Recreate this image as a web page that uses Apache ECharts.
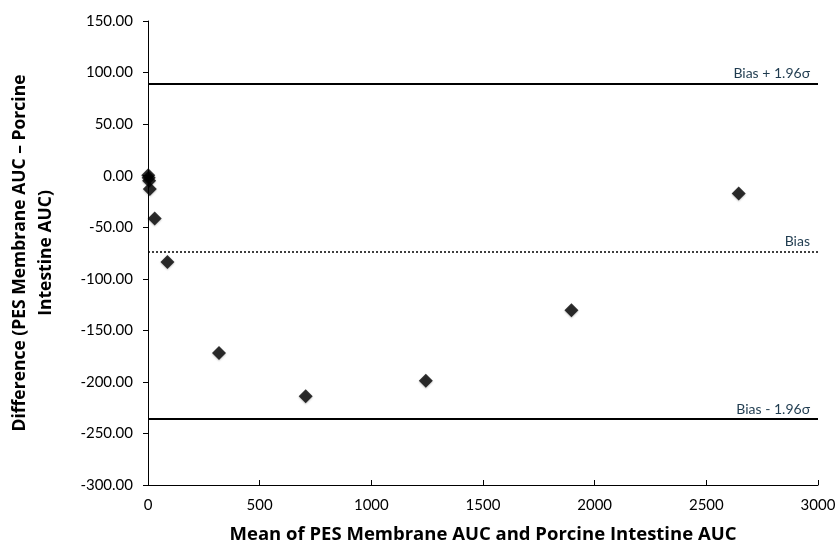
<!DOCTYPE html>
<html>
<head>
<meta charset="utf-8">
<script src="https://cdn.jsdelivr.net/npm/echarts@6/dist/echarts.min.js"></script>
<style>
  html, body { margin: 0; padding: 0; background: #fff; }
  #chart { width: 840px; height: 547px; }
</style>
</head>
<body>
<div id="chart"></div>
<script>
// Bland–Altman comparison: PES membrane vs porcine intestine AUC
const meanAUC = [1, 3, 5, 8, 30, 87, 318, 706, 1244, 1896, 2645];
const diffAUC = [0.5, -2, -5, -13, -41.6, -83.7, -172, -214, -199, -130.5, -17.4];

const bias = -73.4;
const upperLimit = 89.3;
const lowerLimit = -236.0;

const xTicks = { min: 0, max: 3000, step: 500 };
const yTicks = { min: -300, max: 150, step: 50 };

const lineLabels = ['Bias + 1.96σ', 'Bias', 'Bias - 1.96σ'];

const FONT = 'Lato, "Open Sans", sans-serif';
const TITLE_FONT = '"Open Sans", Lato, sans-serif';

const chart = echarts.init(document.getElementById('chart'), null, { renderer: 'canvas' });

const labelStyle = {
  show: true,
  formatter: '{b}',
  position: 'insideEndTop',
  color: '#1F3B4F',
  fontFamily: FONT,
  fontSize: 14,
  distance: [8, 3]
};

chart.setOption({
  animation: false,
  backgroundColor: '#ffffff',
  grid: { left: 148, right: 22, top: 21, bottom: 62, containLabel: false, outerBoundsMode: 'none' },
  xAxis: {
    type: 'value',
    min: xTicks.min, max: xTicks.max, interval: xTicks.step,
    name: 'Mean of PES Membrane AUC and Porcine Intestine AUC',
    nameLocation: 'middle',
    nameGap: 40,
    nameTextStyle: { fontFamily: TITLE_FONT, fontWeight: 'bold', fontSize: 18.5, color: '#000' },
    axisLine: { show: true, onZero: false, lineStyle: { color: '#000', width: 1 } },
    axisTick: { show: true, inside: true, length: 5, lineStyle: { color: '#000' } },
    axisLabel: { fontFamily: FONT, fontSize: 15, color: '#000', margin: 13, formatter: v => String(v) },
    splitLine: { show: false }
  },
  yAxis: {
    type: 'value',
    min: yTicks.min, max: yTicks.max, interval: yTicks.step,
    name: 'Difference (PES Membrane AUC – Porcine\nIntestine AUC)',
    nameLocation: 'middle',
    nameRotate: 90,
    nameGap: 89,
    nameTextStyle: { fontFamily: TITLE_FONT, fontWeight: 'bold', fontSize: 17.5, color: '#000', lineHeight: 26, align: 'center' },
    axisLine: { show: true, onZero: false, lineStyle: { color: '#000', width: 1 } },
    axisTick: { show: true, inside: false, length: 5, lineStyle: { color: '#000' } },
    axisLabel: {
      fontFamily: FONT, fontSize: 15, color: '#000', margin: 15,
      formatter: v => v.toFixed(2)
    },
    splitLine: { show: false }
  },
  series: [
    {
      type: 'scatter',
      data: meanAUC.map((m, i) => [m, diffAUC[i]]),
      symbol: 'diamond',
      symbolSize: 14,
      itemStyle: { color: '#000', shadowColor: 'rgba(0,0,0,0.3)', shadowBlur: 2, shadowOffsetY: 1 },
      z: 5,
      markLine: {
        silent: true,
        symbol: ['none', 'none'],
        animation: false,
        data: [
          { name: lineLabels[0], yAxis: upperLimit, lineStyle: { color: '#000', width: 2, type: 'solid' }, label: labelStyle },
          { name: lineLabels[1], yAxis: bias, lineStyle: { color: '#000', width: 1.5, type: [2, 2] }, label: labelStyle },
          { name: lineLabels[2], yAxis: lowerLimit, lineStyle: { color: '#000', width: 2, type: 'solid' }, label: labelStyle }
        ]
      }
    }
  ]
});
</script>
</body>
</html>
